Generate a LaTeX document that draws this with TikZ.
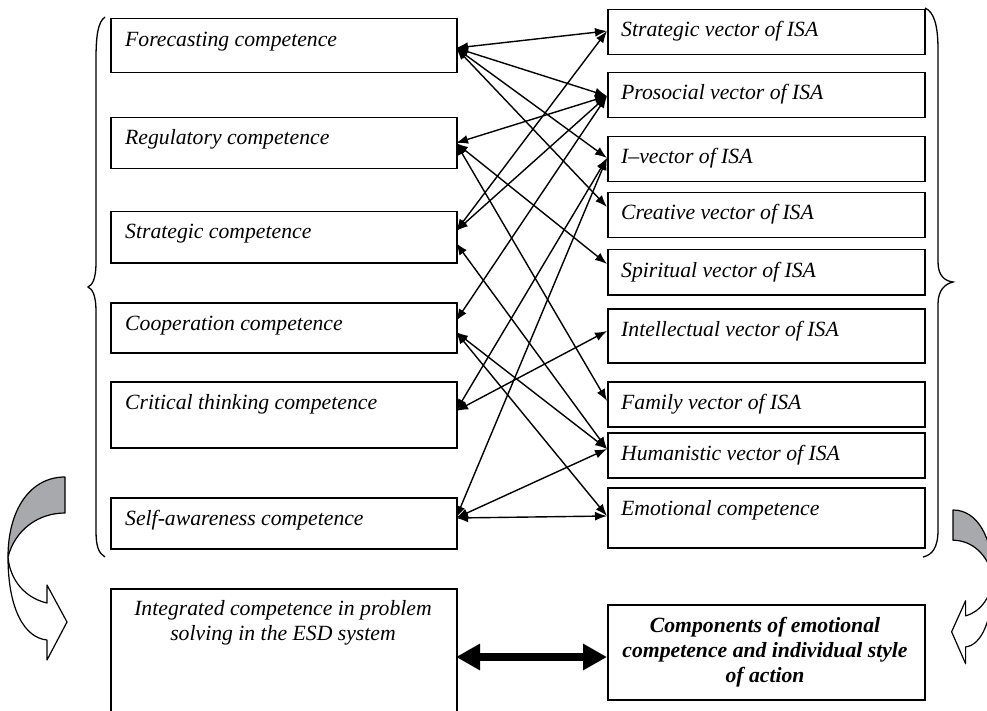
\documentclass[tikz,border=0pt]{standalone}
\usepackage{fontspec}
\setmainfont{Liberation Serif}
\usetikzlibrary{arrows.meta}
\definecolor{arrowgray}{RGB}{168,169,172}
\begin{document}
\begin{tikzpicture}[x=1pt,y=-1pt,
  box/.style={draw, line width=1.5pt, anchor=north west, inner sep=0pt, minimum width=#1},
  lbox/.style={box=346pt},
  rbox/.style={box=317pt},
  txt/.style={font=\fontsize{21.7}{25}\selectfont\itshape, inner sep=0pt, anchor=base west},
  ctxt/.style={font=\fontsize{21.7}{25}\selectfont\itshape, inner sep=0pt, align=center, anchor=base},
  link/.style={line width=1.4pt, {Latex[length=12pt,width=9pt]}-{Latex[length=12pt,width=9pt]}},
  bigarrow/.style={line width=8pt, {Triangle[length=24pt,width=25pt]}-{Triangle[length=24pt,width=25pt]}},
  bracestyle/.style={line width=1.3pt},
  swoosh/.style={draw, line width=1.2pt, line join=round},
]
\useasboundingbox (0,0) rectangle (987,711);
\clip (0,0) rectangle (987,711);

% left boxes
\node[lbox, minimum height=54pt] (F) at (110,18) {};
\node[lbox, minimum height=51pt] (R) at (110,117) {};
\node[lbox, minimum height=51pt] (S) at (110,211) {};
\node[lbox, minimum height=50pt] (C) at (110,302) {};
\node[lbox, minimum height=66pt] (CT) at (110,381) {};
\node[lbox, minimum height=51pt] (SA) at (110,497) {};
\node[lbox, minimum height=150pt] (IC) at (110,588) {};

\node[txt] (tF) at (125,47) {Forecasting competence};
\node[txt] (tR) at (125,145) {Regulatory competence};
\node[txt] (tS) at (125,239) {Strategic competence};
\node[txt] (tC) at (125,330) {Cooperation competence};
\node[txt] (tCT) at (125,409) {Critical thinking competence};
\node[txt] (tSA) at (125,525) {Self-awareness competence};
\node[ctxt] (tIC) at (283,640) {Integrated competence in problem\\solving in the ESD system};

% right boxes
\node[rbox, minimum height=45pt] (SV) at (607,9) {};
\node[rbox, minimum height=45pt] (P) at (607,72) {};
\node[rbox, minimum height=45pt] (I) at (607,136) {};
\node[rbox, minimum height=45pt] (Cr) at (607,192) {};
\node[rbox, minimum height=45pt] (Sp) at (607,249) {};
\node[rbox, minimum height=54pt] (In) at (607,308) {};
\node[rbox, minimum height=45pt] (Fa) at (607,381) {};
\node[rbox, minimum height=45pt] (H) at (607,432) {};
\node[rbox, minimum height=60pt] (E) at (607,487) {};
\node[rbox, minimum height=95pt] (Co) at (607,604) {};

\node[txt] (tSV) at (621,37) {Strategic vector of ISA};
\node[txt] (tP) at (621,100) {Prosocial vector of ISA};
\node[txt] (tI) at (621,164) {I--vector of ISA};
\node[txt] (tCr) at (621,220) {Creative vector of ISA};
\node[txt] (tSp) at (621,277) {Spiritual vector of ISA};
\node[txt] (tIn) at (621,336) {Intellectual vector of ISA};
\node[txt] (tFa) at (621,409) {Family vector of ISA};
\node[txt] (tH) at (621,460) {Humanistic vector of ISA};
\node[txt] (tE) at (621,515) {Emotional competence};
\node[ctxt, font=\fontsize{21.7}{25}\selectfont\bfseries\itshape] (tCo) at (765,682) {Components of emotional\\competence and individual style\\of action};

% anchor points
\coordinate (aF) at (456,48);
\coordinate (aR) at (456,143);
\coordinate (aS1) at (456,231);
\coordinate (aS2) at (456,243);
\coordinate (aC1) at (456,321);
\coordinate (aC2) at (456,332);
\coordinate (aCT) at (456,411);
\coordinate (aSA) at (456,518);
\coordinate (aSV) at (607,31);
\coordinate (aP) at (607,96);
\coordinate (aI) at (607,158);
\coordinate (aCr) at (607,207);
\coordinate (aSp) at (607,264);
\coordinate (aIn) at (607,331);
\coordinate (aFa) at (607,401);
\coordinate (aH) at (607,449);
\coordinate (aE) at (607,516);
\coordinate (aIC) at (456,657);
\coordinate (aCo) at (607,657);

% connectors
\draw[link] (aF) -- (aSV);
\draw[link] (aF) -- (aP);
\draw[link] (aF) -- (aI);
\draw[link] (aF) -- (aCr);
\draw[link] (aR) -- (aP);
\draw[link] (aR) -- (aSp);
\draw[link] (aR) -- (aFa);
\draw[link] (aS1) -- (aSV);
\draw[link] (aS1) -- (aP);
\draw[link] (aS2) -- (aH);
\draw[link] (aC1) -- (aP);
\draw[link] (aC2) -- (aH);
\draw[link] (aC2) -- (aE);
\draw[link] (aCT) -- (aIn);
\draw[link] (aCT) -- (aI);
\draw[link] (aSA) -- (aI);
\draw[link] (aSA) -- (aH);
\draw[link] (aSA) -- (aE);
\draw[bigarrow] (aIC) -- (aCo);

% braces
\draw[bracestyle] (105,17) .. controls (98,22) and (96,35) .. (96,60) -- (96,262)
  .. controls (96,280) and (92,285) .. (88,287)
  .. controls (92,289) and (96,294) .. (96,312) -- (96,530)
  .. controls (96,548) and (99,553) .. (105,557);
\draw[bracestyle] (925,8) .. controls (934,12) and (938,25) .. (938,50) -- (938,262)
  .. controls (938,276) and (945,281) .. (953,282)
  .. controls (945,284) and (938,290) .. (938,304) -- (938,530)
  .. controls (938,548) and (932,555) .. (923,557);

% curved arrows
\filldraw[swoosh, fill=arrowgray] (65,477) .. controls (30,477) and (8,510) .. (8,557)
  .. controls (15,530) and (38,513) .. (65,513) -- cycle;
\filldraw[swoosh, fill=white] (8,557) .. controls (8,610) and (25,638) .. (47,640)
  -- (47,660) -- (67,622) -- (47,585) -- (47,603)
  .. controls (25,598) and (10,580) .. (8,557) -- cycle;
\begin{scope}[shift={(953,510)}, xscale=-0.7, yscale=0.84, shift={(-65,-477)}]
\filldraw[swoosh, fill=arrowgray] (65,477) .. controls (30,477) and (8,510) .. (8,557)
  .. controls (15,530) and (38,513) .. (65,513) -- cycle;
\filldraw[swoosh, fill=white] (8,557) .. controls (8,610) and (25,638) .. (47,640)
  -- (47,660) -- (67,622) -- (47,585) -- (47,603)
  .. controls (25,598) and (10,580) .. (8,557) -- cycle;
\end{scope}
\end{tikzpicture}
\end{document}
